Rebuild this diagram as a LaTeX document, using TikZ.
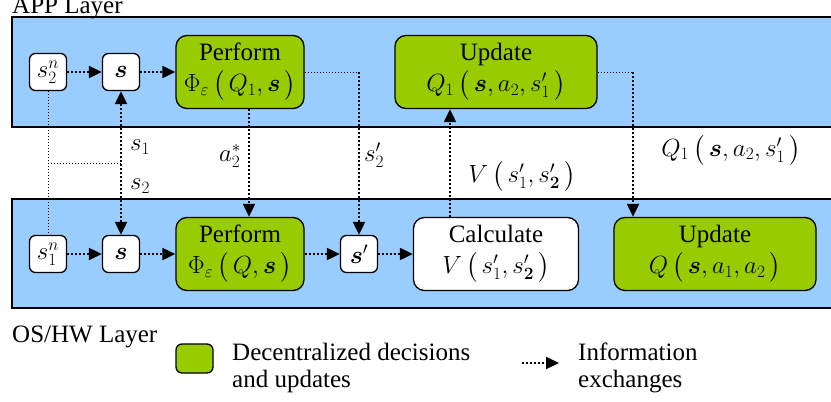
\documentclass[tikz,border=0pt]{standalone}
\usepackage{fontspec}
\setmainfont{Liberation Serif}
\usepackage{amsmath,bm}
\usetikzlibrary{arrows.meta}
\definecolor{bandblue}{HTML}{99CCFF}
\definecolor{decgreen}{HTML}{99CC00}
\newcommand{\pp}[1]{\,\bigl(\,#1\,\bigr)}
\tikzset{
  band/.style={draw=black, line width=1.5pt, fill=bandblue},
  smallbox/.style={draw, line width=1.3pt, fill=white, rounded corners=6pt, minimum width=37pt, minimum height=37pt, inner sep=0pt},
  bigbox/.style={draw, line width=1.3pt, rounded corners=11pt, minimum height=73pt, inner sep=0pt, align=center},
  greenbox/.style={bigbox, fill=decgreen},
  calcbox/.style={bigbox, fill=white},
  info/.style={line width=2pt, dash pattern=on 2pt off 2pt},
  thinlink/.style={line width=1pt, dash pattern=on 1pt off 2pt},
  >={Triangle[length=13pt,width=12pt]},
  lbl/.style={inner sep=0pt},
  txt/.style={inner sep=0pt, anchor=base west}
}
\begin{document}
\begin{tikzpicture}[x=1pt,y=-1pt,font=\fontsize{25}{31}\selectfont]
\useasboundingbox (0,0) rectangle (831,402);
% bands
\path[band] (12,17) rectangle (840,127);
\path[band] (12,199) rectangle (840,308);
% nodes
\node[smallbox] (s2n) at (48,72) {$s_2^n$};
\node[smallbox] (sA) at (121,72) {$\bm{s}$};
\node[greenbox, minimum width=128pt] (perfA) at (240,72) {Perform\\$\Phi_\varepsilon\pp{Q_1,\bm{s}}$};
\node[greenbox, minimum width=202pt] (updA) at (496,72) {Update\\$Q_1\pp{\bm{s},a_2,s_1'}$};
\node[smallbox] (s1n) at (48,254) {$s_1^n$};
\node[smallbox] (sB) at (121,254) {$\bm{s}$};
\node[greenbox, minimum width=128pt] (perfB) at (240,254) {Perform\\$\Phi_\varepsilon\pp{Q,\bm{s}}$};
\node[smallbox] (sp) at (359,254) {$\bm{s}'$};
\node[calcbox, minimum width=165pt] (calc) at (496,254) {Calculate\\$V\pp{s_1',s_{\bm{2}}'}$};
\node[greenbox, minimum width=202pt] (updB) at (715,254) {Update\\$Q\pp{\bm{s},a_1,a_2}$};
% coordinates
\coordinate (c1) at (359,72);
\coordinate (c2) at (633,72);
\coordinate (h1) at (48,163);
\coordinate (h2) at (121,163);
% connectors
\draw[info,->] (s2n) -- (sA);
\draw[info,->] (sA) -- (perfA);
\draw[info,->] (s1n) -- (sB);
\draw[info,->] (sB) -- (perfB);
\draw[info,->] (perfB) -- (sp);
\draw[info,->] (sp) -- (calc);
\draw[info,<->] (sA.south) -- (sB.north);
\draw[thinlink] (s2n.south) -- (s1n.north);
\draw[thinlink] (h1) -- (h2);
\draw[info,->] ([xshift=9pt]perfA.south) -- ([xshift=9pt]perfB.north);
\draw[thinlink] (perfA.east) -- (c1);
\draw[info,->] (c1) -- (sp.north);
\draw[info,->] ([xshift=-46pt]calc.north) -- ([xshift=-46pt]updA.south);
\draw[thinlink] (updA.east) -- (c2);
\draw[info,->] (c2) -- (c2 |- updB.north);
% labels
\node[lbl] (l1) at (140,147) {$s_1$};
\node[lbl] (l2) at (140,186) {$s_2$};
\node[lbl] (l3) at (230,156) {$a_2^*$};
\node[lbl] (l4) at (374,155) {$s_2'$};
\node[lbl] (l5) at (522,176) {$V\pp{s_1',s_{\bm{2}}'}$};
\node[lbl] (l6) at (731,150) {$Q_1\pp{\bm{s},a_2,s_1'}$};
% layer titles
\node[txt] (app) at (12,13) {APP Layer};
\node[txt] (os) at (12,342) {OS/HW Layer};
% legend
\node[draw, line width=1.3pt, fill=decgreen, rounded corners=6pt, minimum width=37pt, minimum height=29pt, inner sep=0pt] (leg) at (194.5,358.5) {};
\node[txt] (lt1) at (232,360) {Decentralized decisions};
\node[txt] (lt2) at (232,387) {and updates};
\coordinate (la) at (522,363);
\coordinate (lb) at (559,363);
\draw[info,->] (la) -- (lb);
\node[txt] (lt3) at (578,360) {Information};
\node[txt] (lt4) at (578,387) {exchanges};
\end{tikzpicture}
\end{document}
